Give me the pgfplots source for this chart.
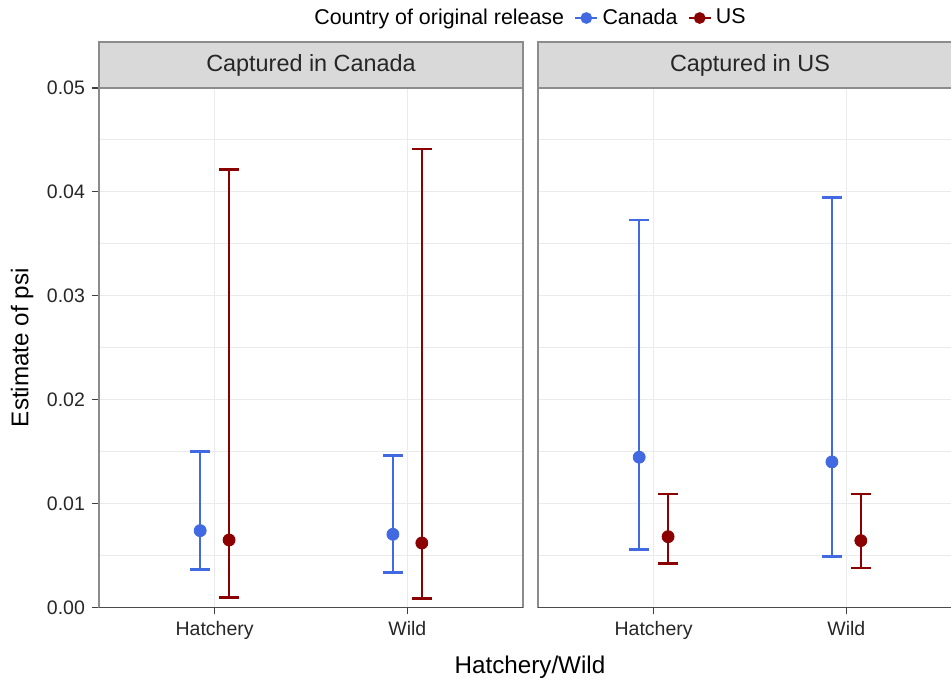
\documentclass[border=0pt]{standalone}
\usepackage{fontspec}
\setmainfont{Liberation Sans}
\usepackage{pgfplots}
\pgfplotsset{compat=1.18}
\usepackage{pgfplotstable}

\definecolor{canadablue}{HTML}{4169E1}
\definecolor{usred}{HTML}{8B0000}
\definecolor{stripfill}{HTML}{D9D9D9}
\definecolor{framegray}{HTML}{8C8C8C}
\definecolor{gridgray}{HTML}{EBEBEB}

% estimate with lower / upper bounds, dodged around the category position
% Captured in Canada
\pgfplotstableread{
x     y       lo      hi
0.925 0.00738 0.00362 0.01499
1.925 0.00703 0.00337 0.01461
}\capCanRelCan
\pgfplotstableread{
x     y       lo      hi
1.075 0.00648 0.00096 0.04213
2.075 0.00619 0.00083 0.04412
}\capCanRelUS
% Captured in US
\pgfplotstableread{
x     y       lo      hi
0.925 0.01445 0.00555 0.03731
1.925 0.01400 0.00491 0.03944
}\capUSRelCan
\pgfplotstableread{
x     y       lo      hi
1.075 0.00680 0.00424 0.01092
2.075 0.00642 0.00379 0.01092
}\capUSRelUS

\pgfplotsset{
  facet/.style={
    scale only axis, width=212pt, height=259.65pt,
    xmin=0.4, xmax=2.6, ymin=0, ymax=0.05,
    xtick={1,2}, xticklabels={Hatchery,Wild},
    ytick={0,0.01,0.02,0.03,0.04,0.05},
    minor ytick={0.005,0.015,0.025,0.035,0.045},
    ymajorgrids, yminorgrids, xmajorgrids,
    grid style={gridgray, line width=0.6pt},
    minor grid style={gridgray, line width=0.45pt},
    tick align=outside, tick pos=left,
    major tick length=3.5pt, minor tick length=0pt,
    tick style={black!75, line width=0.55pt},
    axis line style={framegray, line width=0.6pt},
    clip=false,
    ticklabel style={font=\fontsize{9.75}{11}\selectfont, text=black!85},
    scaled y ticks=false,
    yticklabel style={/pgf/number format/.cd, fixed, fixed zerofill, precision=2, assume math mode=true},
    legend image code/.code={%
      \draw[##1, mark repeat=2, mark phase=2] plot coordinates {(0pt,0pt) (5.5pt,0pt) (11pt,0pt)};},
  },
  est/.style={
    only marks, mark=*, mark size=3pt, color=#1, mark options={solid, fill=#1},
    error bars/y dir=both, error bars/y explicit,
    error bars/error bar style={line width=1.25pt, #1},
    error bars/error mark options={rotate=90, mark size=5pt, line width=1.25pt, #1},
  },
}

\newcommand{\estplot}[2]{%
  \addplot[est=#1, forget plot] table[x=x, y=y,
    y error plus expr=\thisrow{hi}-\thisrow{y},
    y error minus expr=\thisrow{y}-\thisrow{lo}] {#2};}

\newcommand{\strip}[1]{%
  \draw[fill=stripfill, draw=framegray, line width=0.6pt]
    (rel axis cs:0,1) rectangle ([yshift=23pt]rel axis cs:1,1);
  \node[font=\fontsize{11.7}{14}\selectfont, text=black!85]
    at ([yshift=11.5pt]rel axis cs:0.5,1) {#1};
  \draw[black!70, line width=0.7pt] (rel axis cs:0,0) -- (rel axis cs:1,0);}

\begin{document}
\begin{tikzpicture}
\path[use as bounding box] (0,0) rectangle (475.5pt,340pt);
\clip (0,0) rectangle (475.5pt,340pt);

\begin{axis}[facet, at={(49.5pt,36.35pt)}, anchor=south west,
    ylabel={Estimate of psi},
    ylabel style={at={(axis description cs:-0.1816,0.5)}, anchor=center,
      font=\fontsize{12.1}{14}\selectfont, text=black},
    xlabel={Hatchery/Wild},
    xlabel style={at={(axis description cs:1.0165,-0.115)}, anchor=center,
      font=\fontsize{12.1}{14}\selectfont, text=black},
    legend columns=3,
    legend style={at={(axis description cs:1.0165,1.1348)}, anchor=center,
      draw=none, fill=none, font=\fontsize{10.7}{13}\selectfont,
      /tikz/every even column/.append style={column sep=3pt}},
  ]
  \strip{Captured in Canada}
  \estplot{canadablue}{\capCanRelCan}
  \estplot{usred}{\capCanRelUS}
  \addlegendimage{empty legend}
  \addlegendentry{Country of original release}
  \addlegendimage{canadablue, line width=1.2pt, mark=*, mark size=2.3pt}
  \addlegendentry{Canada}
  \addlegendimage{usred, line width=1.2pt, mark=*, mark size=2.3pt}
  \addlegendentry{US}
\end{axis}

\begin{axis}[facet, at={(269pt,36.35pt)}, anchor=south west,
    yticklabels={}, ytick style={draw=none}]
  \strip{Captured in US}
  \estplot{canadablue}{\capUSRelCan}
  \estplot{usred}{\capUSRelUS}
\end{axis}
\end{tikzpicture}
\end{document}
